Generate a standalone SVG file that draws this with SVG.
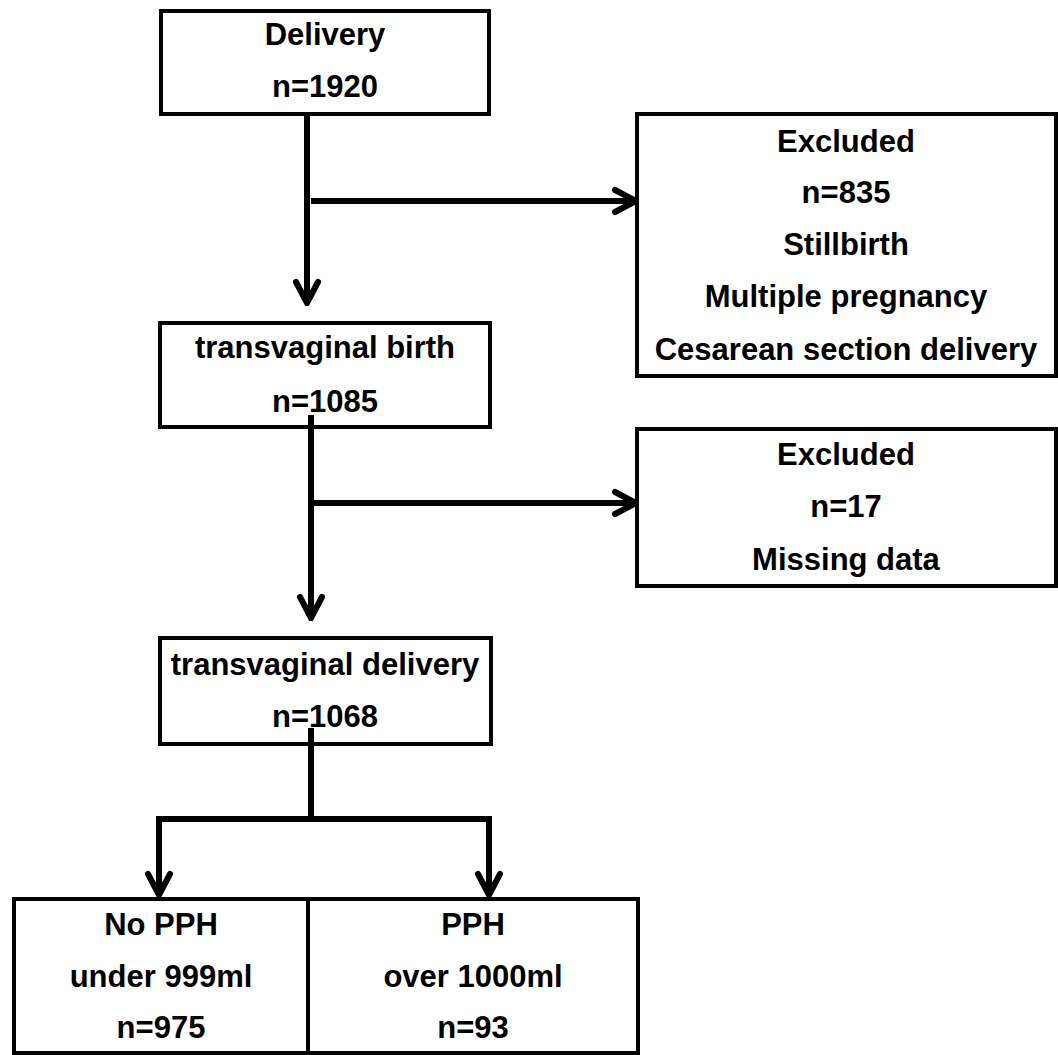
<svg xmlns="http://www.w3.org/2000/svg" width="1058" height="1055" viewBox="0 0 1058 1055">
<style>
.box{fill:#fff;stroke:#000;stroke-width:4}
.t{font-family:"Liberation Sans",Arial,"Noto Sans CJK JP",sans-serif;font-weight:bold;font-size:31px;fill:#000;text-anchor:middle}
.c{fill:none;stroke:#000;stroke-width:6}
</style>
<defs>
<marker id="arr" viewBox="0 0 30 30" refX="27" refY="15" markerWidth="30" markerHeight="30" markerUnits="userSpaceOnUse" orient="auto">
<path d="M6,4 L27,15 L6,26" fill="none" stroke="#000" stroke-width="6" stroke-linecap="round" stroke-linejoin="miter"/>
</marker>
</defs>
<rect width="1058" height="1055" fill="#fff"/>
<g id="delivery">
<rect class="box" x="161" y="11" width="328" height="103"/>
<text class="t" x="325" y="45">Delivery</text>
<text class="t" x="325" y="97">n=1920</text>
</g>
<g id="excluded1">
<rect class="box" x="637" y="114" width="419" height="262"/>
<text class="t" x="846" y="152">Excluded</text>
<text class="t" x="846" y="203">n=835</text>
<text class="t" x="846" y="255">Stillbirth</text>
<text class="t" x="846" y="307">Multiple pregnancy</text>
<text class="t" x="846" y="360">Cesarean section delivery</text>
</g>
<g id="transvaginal-birth">
<rect class="box" x="160" y="323" width="330" height="104"/>
<text class="t" x="325" y="358">transvaginal birth</text>
<text class="t" x="325" y="412">n=1085</text>
</g>
<g id="excluded2">
<rect class="box" x="637" y="429" width="419" height="157"/>
<text class="t" x="846" y="465">Excluded</text>
<text class="t" x="846" y="517">n=17</text>
<text class="t" x="846" y="570">Missing data</text>
</g>
<g id="transvaginal-delivery">
<rect class="box" x="160" y="638" width="331" height="106"/>
<text class="t" x="325" y="675">transvaginal delivery</text>
<text class="t" x="325" y="727">n=1068</text>
</g>
<g id="no-pph">
<rect class="box" x="14" y="899" width="294" height="154"/>
<text class="t" x="161" y="935">No PPH</text>
<text class="t" x="161" y="987">under 999ml</text>
<text class="t" x="161" y="1038">n=975</text>
</g>
<g id="pph">
<rect class="box" x="308" y="899" width="330" height="154"/>
<text class="t" x="473" y="935">PPH</text>
<text class="t" x="473" y="987">over 1000ml</text>
<text class="t" x="473" y="1038">n=93</text>
</g>
<g id="connectors">
<path class="c" d="M307,116 V303" marker-end="url(#arr)"/>
<path class="c" d="M311,201 H636" marker-end="url(#arr)"/>
<path class="c" d="M311,415 V618" marker-end="url(#arr)"/>
<path class="c" d="M311,503 H636" marker-end="url(#arr)"/>
<path class="c" d="M311,728 V819"/>
<path class="c" d="M156,819 H492"/>
<path class="c" d="M159,817 V895" marker-end="url(#arr)"/>
<path class="c" d="M489,817 V895" marker-end="url(#arr)"/>
</g>
</svg>
